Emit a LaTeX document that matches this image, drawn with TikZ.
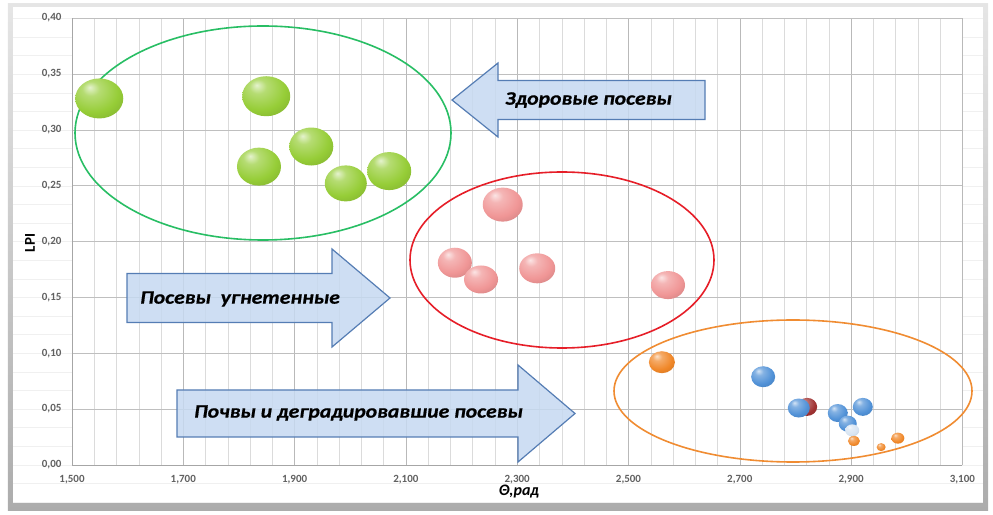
\documentclass[tikz,border=0pt]{standalone}
\usepackage{fontspec}
\setmainfont{Carlito}

\definecolor{bubgreen}{RGB}{150,205,55}
\definecolor{bubpink}{RGB}{240,150,150}
\definecolor{bubblue}{RGB}{80,145,215}
\definecolor{buborange}{RGB}{240,135,40}
\definecolor{bubred}{RGB}{160,50,50}
\definecolor{bubwhite}{RGB}{215,228,242}
\definecolor{ringgreen}{RGB}{40,190,100}
\definecolor{ringred}{RGB}{230,30,40}
\definecolor{ringorange}{RGB}{240,140,50}
\definecolor{arrowfill}{RGB}{198,217,241}
\definecolor{arrowedge}{RGB}{85,125,180}
\colorlet{bubcol}{bubgreen}

\pgfdeclareradialshading[bubcol]{bubshade}{\pgfpoint{-10bp}{14bp}}{%
  color(0bp)=(bubcol!25!white); color(9bp)=(bubcol!70!white);
  color(26bp)=(bubcol); color(48bp)=(bubcol!78!black); color(70bp)=(bubcol!65!black)}

\begin{document}
\begin{tikzpicture}[x=1pt, y=1pt,
  ticklabel/.style={text=black!62, font=\fontsize{11}{13}\selectfont\bfseries},
  arrowtext/.style={font=\fontsize{19}{21}\selectfont\bfseries\itshape\addfontfeature{FakeBold=0.6}},
  bluearrow/.style={draw=arrowedge, fill=arrowfill, fill opacity=0.85, line width=1.2pt},
  ring/.style={line width=1.6pt},
  bubble/.style={/utils/exec={\colorlet{bubcol}{#1}}, shading=bubshade}]

  \newcommand\X{556.5};  % pt per rad
  \newcommand\Y{1117.5}; % pt per LPI
  \newcommand\GX{22.26};

  \useasboundingbox (-72,-49) rectangle (921,465);

  % frame
  \shade[top color=gray!20, bottom color=gray!65] (-64,-45) rectangle (916,461);
  \fill[white] (-59,-37) rectangle (911,458);
  \foreach \j in {0,...,26}
    \draw[gray!12] (-59,{-37+\j*18.6}) -- (911,{-37+\j*18.6});

  % plot area
  \fill[white] (0,0) rectangle ({1.6*\X},{0.4*\Y});
  \foreach \i in {0,...,40}
    \draw[gray!28] ({\i*\GX},0) -- ({\i*\GX},{0.4*\Y});
  \foreach \i in {0,...,8}
    \draw[gray!55] ({\i*0.2*\X},0) -- ({\i*0.2*\X},{0.4*\Y});
  \foreach \j in {1,...,8}
    \draw[gray!50] (0,{\j*0.05*\Y}) -- ({1.6*\X},{\j*0.05*\Y});
  \draw[gray!70] (0,{0.4*\Y}) -- (0,0) -- ({1.6*\X},0);

  % tick labels
  \foreach \j/\lab in {0/{0,00},1/{0,05},2/{0,10},3/{0,15},4/{0,20},5/{0,25},6/{0,30},7/{0,35},8/{0,40}}
    \node[ticklabel, anchor=east] (yt\j) at (-7,{\j*0.05*\Y}) {\lab};
  \foreach \i/\lab in {0/{1,500},1/{1,700},2/{1,900},3/{2,100},4/{2,300},5/{2,500},6/{2,700},7/{2,900},8/{3,100}}
    \node[ticklabel] (xt\i) at ({\i*0.2*\X},-15) {\lab};

  \node[font=\bfseries\fontsize{15}{17}\selectfont, rotate=90] (lpi) at (-42,222) {LPI};
  \node[font=\bfseries\itshape\fontsize{16}{18}\selectfont] (theta) at (447,-27) {Θ,рад};

  % groups
  \draw[ring, draw=ringgreen] (191,332) ellipse (188pt and 107pt);
  \draw[ring, draw=ringred] (490,205) ellipse (152pt and 88pt);
  \draw[ring, draw=ringorange] (721,74) ellipse (179pt and 71pt);

  % bubbles
  \foreach \t/\l/\rx/\ry in {1.549/0.328/24/20, 1.849/0.330/24/20, 1.930/0.285/22/19,
      1.836/0.267/22/19, 1.992/0.252/21/18, 2.070/0.263/22/19}
    \shade[bubble=bubgreen] ({(\t-1.5)*\X},{\l*\Y}) ellipse (\rx pt and \ry pt);
  \foreach \t/\l/\rx/\ry in {2.274/0.233/20/17, 2.188/0.181/17/15, 2.235/0.166/17/14,
      2.336/0.176/18/15, 2.571/0.161/17/14}
    \shade[bubble=bubpink] ({(\t-1.5)*\X},{\l*\Y}) ellipse (\rx pt and \ry pt);
  \shade[bubble=buborange] ({(2.560-1.5)*\X},{0.092*\Y}) ellipse (13pt and 11pt);
  \shade[bubble=bubred] ({(2.821-1.5)*\X},{0.052*\Y}) ellipse (10pt and 9pt);
  \foreach \t/\l/\rx/\ry in {2.742/0.079/12/10.5, 2.806/0.051/11/9.5, 2.876/0.0465/10/9,
      2.921/0.052/10/9, 2.894/0.037/9/8}
    \shade[bubble=bubblue] ({(\t-1.5)*\X},{\l*\Y}) ellipse (\rx pt and \ry pt);
  \shade[bubble=bubwhite] ({(2.902-1.5)*\X},{0.031*\Y}) ellipse (7pt and 6pt);
  \foreach \t/\l/\rx/\ry in {2.905/0.0215/6/5, 2.954/0.016/4.5/4, 2.984/0.024/6.5/5.5}
    \shade[bubble=buborange] ({(\t-1.5)*\X},{\l*\Y}) ellipse (\rx pt and \ry pt);

  % arrows
  \draw[bluearrow] (380,365) -- (426,402) -- (426,384.5) -- (633,384.5)
    -- (633,345.5) -- (426,345.5) -- (426,328) -- cycle;
  \draw[bluearrow] (55,191.5) -- (260,191.5) -- (260,216) -- (318,167)
    -- (260,118) -- (260,142.5) -- (55,142.5) -- cycle;
  \draw[bluearrow] (105,75) -- (446,75) -- (446,100) -- (503,51.5)
    -- (446,3) -- (446,28) -- (105,28) -- cycle;

  \node[arrowtext] (healthy) at (516.5,365) {\scalebox{1.14}[1]{Здоровые посевы}};
  \node[arrowtext] (weak) at (168,166) {\scalebox{1.14}[1]{Посевы~~угнетенные}};
  \node[arrowtext] (soil) at (286.5,52) {\scalebox{1.14}[1]{Почвы и деградировавшие посевы}};

\end{tikzpicture}
\end{document}
